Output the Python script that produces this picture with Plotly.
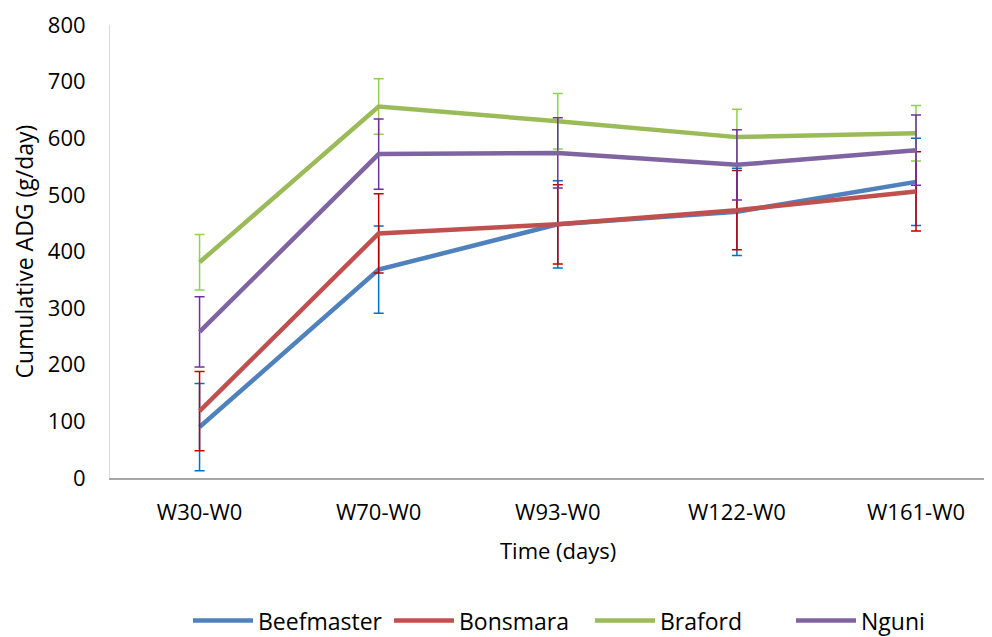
import plotly.graph_objects as go

categories = ["W30-W0", "W70-W0", "W93-W0", "W122-W0", "W161-W0"]
beefmaster = [90, 368, 448, 470, 523]
bonsmara = [118, 432, 448, 473, 506]
braford = [381, 656, 630, 602, 609]
nguni = [258, 572, 574, 553, 579]
err_beefmaster = [77, 77, 77, 77, 77]
err_bonsmara = [70, 70, 70, 70, 70]
err_braford = [49, 49, 49, 49, 49]
err_nguni = [62, 62, 62, 62, 62]

series = [
    ("Beefmaster", beefmaster, err_beefmaster, "#4F81BD", "#0070C0"),
    ("Bonsmara", bonsmara, err_bonsmara, "#C0504D", "#C00000"),
    ("Braford", braford, err_braford, "#9BBB59", "#92D050"),
    ("Nguni", nguni, err_nguni, "#8064A2", "#7030A0"),
]

fig = go.Figure()
for name, vals, errs, lc, ec in series:
    fig.add_trace(go.Scatter(
        x=categories, y=vals, name=name, mode="lines",
        line=dict(color=lc, width=4.5),
        error_y=dict(type="data", array=errs, visible=True, color=ec, thickness=1.5, width=5),
    ))

font = "Open Sans, Liberation Sans, sans-serif"
fig.add_annotation(text="Time (days)", x=2, xref="x", y=-0.16, yref="paper",
                   yanchor="middle", showarrow=False, font=dict(size=22))
fig.update_layout(
    width=984, height=629,
    margin=dict(l=102, r=2, t=17, b=159),
    plot_bgcolor="white", paper_bgcolor="white",
    font=dict(family=font, size=22, color="black"),
    showlegend=True,
    legend=dict(orientation="h", x=0.131, xanchor="left", xref="paper",
                y=0.026, yref="container", yanchor="middle",
                font=dict(size=23), itemwidth=60, traceorder="normal",
                entrywidth=126, entrywidthmode="pixels"),
    xaxis=dict(
        type="category", range=[-0.5, 4.413], automargin=False,
        showline=True, linecolor="#A6A6A6", linewidth=1.5,
        showgrid=False, ticks="", tickfont=dict(size=22), ticklabelstandoff=14,
    ),
    yaxis=dict(
        range=[0, 800], dtick=100, automargin=False, ticklabeloverflow="allow",
        showline=True, linecolor="#D9D9D9", linewidth=1,
        showgrid=False, ticks="", zeroline=False, tickfont=dict(size=22), ticklabelstandoff=19,
        title=dict(text="Cumulative ADG (g/day)", font=dict(size=23), standoff=8),
    ),
)
fig.write_html("out.html")
